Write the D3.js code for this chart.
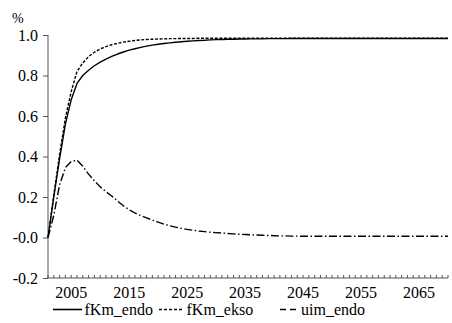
<!DOCTYPE html>
<html>
<head>
<meta charset="utf-8">
<script src="https://cdn.jsdelivr.net/npm/d3@7"></script>
<style>
  html body svg#fig text, html body svg#fig g text { font-family: "Liberation Serif", "Times New Roman", Tinos, serif !important; }
</style>
</head>
<body style="margin:0;background:#fff">
<svg id="fig" width="452" height="323" style="display:block"></svg>
<script>
// Annual path 2001-2070
const firstYear = 2001;
const lastYear = 2070;

const fKm_endo = [
  0.000, 0.200, 0.390, 0.560, 0.680, 0.761, 0.800, 0.826, 0.848, 0.866,
  0.881, 0.894, 0.906, 0.916, 0.925, 0.932, 0.939, 0.945, 0.950, 0.954,
  0.958, 0.961, 0.964, 0.967, 0.969, 0.971, 0.973, 0.974, 0.976, 0.977,
  0.978, 0.979, 0.979, 0.980, 0.980, 0.981, 0.981, 0.981, 0.982, 0.982,
  0.982, 0.982, 0.983, 0.983, 0.983, 0.983, 0.983, 0.983, 0.983, 0.983,
  0.983, 0.983, 0.983, 0.983, 0.983, 0.983, 0.983, 0.983, 0.983, 0.983,
  0.983, 0.983, 0.983, 0.983, 0.983, 0.983, 0.983, 0.983, 0.983, 0.983
];

const fKm_ekso = [
  0.000, 0.210, 0.410, 0.590, 0.720, 0.820, 0.862, 0.893, 0.915, 0.931,
  0.943, 0.952, 0.959, 0.965, 0.969, 0.973, 0.976, 0.978, 0.979, 0.980,
  0.981, 0.982, 0.982, 0.983, 0.983, 0.983, 0.984, 0.984, 0.984, 0.984,
  0.984, 0.984, 0.984, 0.984, 0.984, 0.984, 0.984, 0.984, 0.984, 0.984,
  0.984, 0.984, 0.984, 0.984, 0.984, 0.984, 0.984, 0.984, 0.984, 0.984,
  0.984, 0.984, 0.984, 0.984, 0.984, 0.984, 0.984, 0.984, 0.984, 0.984,
  0.984, 0.984, 0.984, 0.984, 0.984, 0.984, 0.984, 0.984, 0.984, 0.984
];

const uim_endo = [
  0.000, 0.110, 0.260, 0.345, 0.375, 0.382, 0.352, 0.313, 0.280, 0.250,
  0.226, 0.205, 0.180, 0.157, 0.137, 0.121, 0.108, 0.097, 0.086, 0.076,
  0.066, 0.058, 0.051, 0.045, 0.040, 0.036, 0.032, 0.029, 0.026, 0.024,
  0.022, 0.020, 0.018, 0.016, 0.015, 0.013, 0.012, 0.011, 0.010, 0.009,
  0.008, 0.008, 0.007, 0.007, 0.006, 0.006, 0.006, 0.006, 0.006, 0.006,
  0.006, 0.006, 0.006, 0.006, 0.006, 0.006, 0.006, 0.006, 0.006, 0.006,
  0.006, 0.006, 0.006, 0.006, 0.006, 0.006, 0.006, 0.006, 0.006, 0.006
];

const yTickValues = [1.0, 0.8, 0.6, 0.4, 0.2, 0.0, -0.2];
const yTickLabels = ["1.0", "0.8", "0.6", "0.4", "0.2", "-0.0", "-0.2"];
const xTickLabels = ["2005", "2015", "2025", "2035", "2045", "2055", "2065"];

const seriesNames = ["fKm_endo", "fKm_ekso", "uim_endo"];

const years = d3.range(firstYear, lastYear + 1);

const SERIF = "Liberation Serif";
const svg = d3.select("#fig");
const plotLeft = 48, plotRight = 448, plotTop = 35, plotBottom = 278;
const axisColor = "#555";

// give every label the serif face, both as attribute and inline style
function serif(sel, size) {
  return sel
    .attr("font-family", SERIF)
    .attr("font-size", size)
    .style("font-family", SERIF, "important")
    .style("font-size", size + "px", "important");
}

const x = d3.scaleLinear().domain([firstYear, lastYear]).range([plotLeft, plotRight]);
const y = d3.scaleLinear().domain([-0.2, 1.0]).range([plotBottom, plotTop]);

// y axis: ticks pointing outward
const yAxis = d3.axisLeft(y)
  .tickValues(yTickValues)
  .tickSize(5)
  .tickPadding(5)
  .tickFormat((d, i) => yTickLabels[i]);
const gy = svg.append("g").attr("transform", `translate(${plotLeft},0)`).call(yAxis);
gy.attr("font-family", SERIF).attr("font-size", 16);
gy.select(".domain").attr("stroke", axisColor).attr("d", `M0,${plotTop}V${plotBottom}`);
gy.selectAll(".tick line").attr("stroke", axisColor);
serif(gy.selectAll(".tick text").attr("fill", "#000"), 16);

// x axis: yearly minor ticks pointing inward
const gx = svg.append("g").attr("transform", `translate(0,${plotBottom})`);
gx.append("line").attr("x1", plotLeft).attr("x2", plotRight).attr("stroke", axisColor);
gx.selectAll("line.minor").data(years).join("line")
  .attr("class", "minor")
  .attr("x1", d => x(d)).attr("x2", d => x(d))
  .attr("y1", 0).attr("y2", -3)
  .attr("stroke", axisColor);
serif(gx.selectAll("text").data(xTickLabels).join("text")
  .attr("x", d => x(+d)).attr("y", 20)
  .attr("text-anchor", "middle")
  .text(d => d), 16);

// percent unit
serif(svg.append("text").attr("x", 12).attr("y", 22.5).text("%"), 14);

const styles = {
  fKm_endo: { dash: null, width: 1.4 },
  fKm_ekso: { dash: "3,1.6", width: 1.4 },
  uim_endo: { dash: "8,2.5,1.5,2.5", width: 1.4 }
};
const values = { fKm_endo, fKm_ekso, uim_endo };

const line = d3.line().x((d, i) => x(years[i])).y(d => y(d));

seriesNames.forEach(name => {
  svg.append("path")
    .datum(values[name])
    .attr("d", line)
    .attr("fill", "none")
    .attr("stroke", "#000")
    .attr("stroke-width", styles[name].width)
    .attr("stroke-dasharray", styles[name].dash)
    .attr("stroke-linejoin", "round");
});

// legend along the bottom
const legendY = 314;
const legendItems = [
  { name: "fKm_endo", x0: 53, x1: 82, dash: null, tx: 84.5 },
  { name: "fKm_ekso", x0: 159, x1: 183, dash: "3,2", tx: 186.5 },
  { name: "uim_endo", x0: 280, x1: 297, dash: "6,4", tx: 301 }
];
const lg = svg.append("g");
legendItems.forEach(it => {
  lg.append("line")
    .attr("x1", it.x0).attr("x2", it.x1)
    .attr("y1", legendY - 4.5).attr("y2", legendY - 4.5)
    .attr("stroke", "#000").attr("stroke-width", 1.6)
    .attr("stroke-dasharray", it.dash);
  serif(lg.append("text").attr("x", it.tx).attr("y", legendY + 1).text(it.name), 16);
});
</script>
</body>
</html>
